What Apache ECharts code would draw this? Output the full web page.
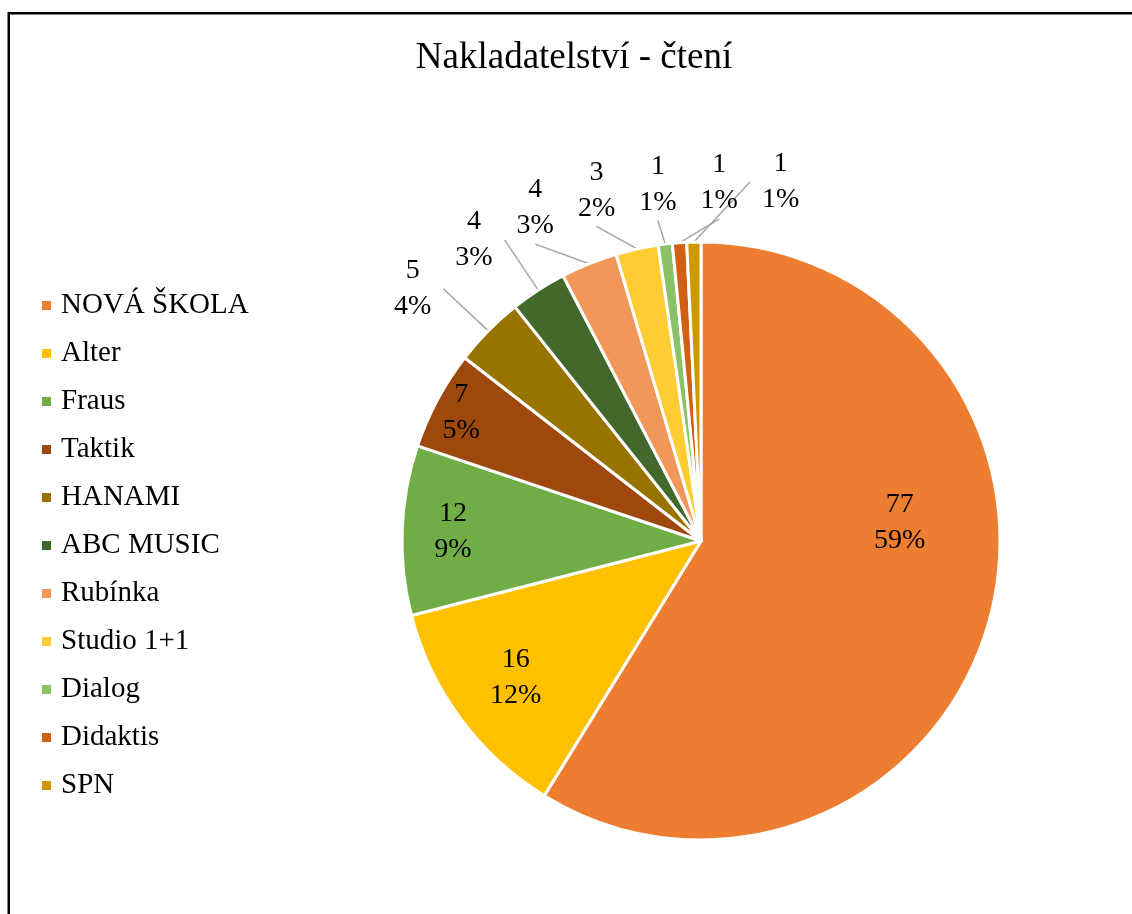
<!DOCTYPE html>
<html><head><meta charset="utf-8">
<script src="https://cdn.jsdelivr.net/npm/echarts@6/dist/echarts.min.js"></script>
<style>html,body{margin:0;padding:0;background:#fff}#c{width:1132px;height:914px}</style>
</head><body><div id="c"></div>
<script>
const titleText = 'Nakladatelství - čtení';
const categories = ['NOVÁ ŠKOLA','Alter','Fraus','Taktik','HANAMI','ABC MUSIC','Rubínka','Studio 1+1','Dialog','Didaktis','SPN'];
const values = [77,16,12,7,5,4,4,3,1,1,1];
const colors = ['#ED7D31','#FFC000','#70AD47','#9E480E','#997300','#43682B','#F1975A','#FFCD33','#8CC168','#D26012','#CC9A00'];
// labels drawn inside the slices: distance from centre as fraction of radius (style)
const insideLabelDepth = { 'NOVÁ ŠKOLA': 0.66, 'Alter': 0.76, 'Fraus': 0.82, 'Taktik': 0.90 };
// small nudges of inside labels (style)
const insideLabelNudge = { 'NOVÁ ŠKOLA': [6, -73] };

const FONT = '"Liberation Serif", "Times New Roman", serif';
const CENTER = [701, 541];
const R = 299;
const OUT_GAP = 60;        // distance of outside labels beyond the rim
const SPREAD_BIAS = -33;   // balances the overlap shifting of outside labels

const labelText = {fontFamily: FONT, fontSize: 28, lineHeight: 36, color: '#000'};
const baseData = categories.map((n, i) => ({name: n, value: values[i], itemStyle: {color: colors[i]}}));

const mainSeries = {
  type: 'pie', center: CENTER, radius: R, startAngle: 90, clockwise: true,
  avoidLabelOverlap: false, percentPrecision: 0,
  itemStyle: {borderColor: '#fff', borderWidth: 3},
  label: Object.assign({show: true, position: 'outside', formatter: '{c}\n{d}%', padding: [0, 12]}, labelText),
  labelLine: {show: true, length: 10, length2: 0, minTurnAngle: 0, lineStyle: {color: '#A6A6A6', width: 1.5}},
  emphasis: {disabled: true},
  data: baseData.map(d => insideLabelDepth[d.name] != null
    ? Object.assign({}, d, {label: {show: false}, labelLine: {show: false}}) : d),
  labelLayout: function (params) {
    const pts = params.labelLinePoints;
    if (!pts || pts.length < 2) return {};
    const p0 = pts[0], p1 = pts[1];
    const dx = p1[0] - p0[0], dy = p1[1] - p0[1];
    const len = Math.hypot(dx, dy) || 1;
    return {
      x: p0[0] + dx / len * OUT_GAP + SPREAD_BIAS,
      y: p0[1] + dy / len * OUT_GAP,
      align: 'center', verticalAlign: 'middle',
      moveOverlap: 'shiftX'
    };
  }
};

const ringSeries = Object.keys(insideLabelDepth).map(name => {
  const d = insideLabelDepth[name] * R;
  return {
    type: 'pie', center: CENTER, radius: [d - 1, d + 1], startAngle: 90, clockwise: true,
    silent: true, legendHoverLink: false, percentPrecision: 0, avoidLabelOverlap: false,
    emphasis: {disabled: true},
    itemStyle: {color: 'rgba(0,0,0,0)', borderWidth: 0},
    label: {show: false},
    labelLine: {show: false},
    data: baseData.map(b => Object.assign({}, b, {
      itemStyle: {color: 'rgba(0,0,0,0)'},
      label: b.name === name
        ? Object.assign({show: true, position: 'inside', formatter: '{c}\n{d}%',
            offset: insideLabelNudge[name] || [0, 0]}, labelText)
        : {show: false}
    }))
  };
});

const chart = echarts.init(document.getElementById('c'));
chart.setOption({
  animation: false,
  backgroundColor: '#fff',
  title: {
    text: titleText, left: 569, top: 35, textAlign: 'center',
    textStyle: {fontFamily: FONT, fontSize: 37, fontWeight: 'normal', color: '#000'}
  },
  legend: {
    orient: 'vertical', left: 35, top: 286, itemWidth: 11, itemHeight: 11, itemGap: 19,
    icon: 'rect', data: categories, selectedMode: false,
    textStyle: {fontFamily: FONT, fontSize: 29, lineHeight: 29, color: '#000', padding: [0, 0, 0, 4]}
  },
  graphic: [{
    type: 'rect', silent: true, z: -1,
    shape: {x: 8.75, y: 13.25, width: 1200, height: 1000},
    style: {fill: 'none', stroke: '#000', lineWidth: 2.5}
  }],
  series: [mainSeries].concat(ringSeries)
});
</script></body></html>
